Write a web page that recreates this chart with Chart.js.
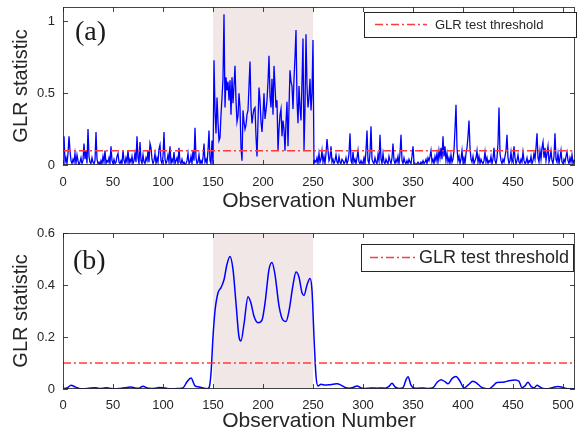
<!DOCTYPE html>
<html><head><meta charset="utf-8">
<script src="https://cdn.jsdelivr.net/npm/chart.js@4.4.0/dist/chart.umd.min.js"></script>
<style>
html,body{margin:0;padding:0;background:#fff;width:577px;height:437px;overflow:hidden}
#wa{position:absolute;left:0;top:0;width:577px;height:220px}
#wb{position:absolute;left:0;top:220px;width:577px;height:217px}
canvas{display:block}
</style></head><body>
<div id="wa"><canvas id="ca" width="577" height="220"></canvas></div>
<div id="wb"><canvas id="cb" width="577" height="217"></canvas></div>
<script>
// ---------- data ----------
const glrA = [
0.20,0.02,0.05,0.01,0.08,0.20,0.10,0.03,0.01,0.04,
0.02,0.08,0.01,0.07,0.03,0.00,0.02,0.05,0.01,0.03,
0.15,0.04,0.10,0.01,0.25,0.06,0.02,0.01,0.05,0.02,
0.01,0.03,0.23,0.04,0.01,0.02,0.00,0.03,0.01,0.06,
0.02,0.10,0.01,0.03,0.02,0.05,0.01,0.13,0.03,0.01,
0.04,0.01,0.02,0.06,0.08,0.02,0.01,0.03,0.01,0.10,
0.03,0.01,0.05,0.02,0.10,0.01,0.04,0.02,0.06,0.01,
0.03,0.08,0.02,0.20,0.05,0.01,0.16,0.03,0.01,0.07,
0.02,0.01,0.05,0.03,0.10,0.02,0.15,0.12,0.04,0.01,
0.03,0.08,0.01,0.05,0.02,0.11,0.14,0.03,0.01,0.06,
0.23,0.04,0.01,0.03,0.07,0.02,0.13,0.01,0.04,0.02,
0.09,0.01,0.03,0.05,0.01,0.12,0.02,0.01,0.04,0.01,
0.02,0.00,0.01,0.03,0.08,0.01,0.02,0.06,0.01,0.10,
0.03,0.26,0.05,0.01,0.02,0.07,0.01,0.03,0.01,0.05,
0.15,0.02,0.04,0.01,0.10,0.24,0.03,0.01,0.17,0.00,
0.73,0.38,0.22,0.47,0.30,0.17,0.19,0.35,0.47,0.60,
1.05,0.40,0.61,0.52,0.58,0.45,0.59,0.35,0.61,0.43,
0.55,0.69,0.45,0.30,0.34,0.50,0.40,0.12,0.03,0.38,
0.30,0.25,0.28,0.35,0.38,0.55,0.72,0.40,0.29,0.35,
0.39,0.40,0.20,0.06,0.30,0.54,0.45,0.30,0.23,0.35,
0.50,0.32,0.38,0.45,0.58,0.76,0.48,0.40,0.60,0.35,
0.69,0.55,0.40,0.45,0.10,0.25,0.35,0.39,0.20,0.31,
0.25,0.10,0.30,0.44,0.13,0.40,0.66,0.58,0.55,0.39,
0.60,0.75,0.94,0.45,0.29,0.55,0.40,0.31,0.58,0.88,
0.10,0.40,0.91,0.55,0.40,0.47,0.60,0.38,0.50,0.87,
0.01,0.03,0.02,0.05,0.01,0.08,0.02,0.04,0.10,0.02,
0.06,0.01,0.08,0.18,0.10,0.03,0.05,0.13,0.02,0.04,
0.01,0.03,0.07,0.02,0.01,0.06,0.02,0.01,0.04,0.03,
0.01,0.02,0.05,0.01,0.03,0.08,0.22,0.03,0.01,0.09,
0.02,0.04,0.01,0.05,0.10,0.02,0.01,0.03,0.01,0.02,
0.05,0.01,0.10,0.24,0.03,0.01,0.08,0.27,0.04,0.02,
0.01,0.05,0.02,0.01,0.07,0.03,0.21,0.04,0.01,0.08,
0.02,0.01,0.04,0.02,0.01,0.06,0.03,0.01,0.05,0.15,
0.03,0.01,0.04,0.02,0.06,0.01,0.08,0.21,0.03,0.01,
0.05,0.02,0.01,0.03,0.01,0.04,0.02,0.01,0.06,0.13,
0.02,0.01,0.00,0.01,0.02,0.01,0.00,0.02,0.01,0.03,
0.01,0.02,0.04,0.01,0.05,0.03,0.06,0.10,0.02,0.04,
0.01,0.06,0.03,0.08,0.02,0.10,0.05,0.12,0.04,0.20,
0.06,0.13,0.03,0.08,0.02,0.05,0.01,0.07,0.02,0.04,
0.10,0.25,0.42,0.12,0.03,0.06,0.01,0.04,0.10,0.02,
0.05,0.01,0.08,0.12,0.20,0.31,0.12,0.04,0.02,0.06,
0.01,0.03,0.05,0.10,0.02,0.06,0.01,0.04,0.02,0.01,
0.03,0.09,0.02,0.05,0.01,0.03,0.02,0.06,0.01,0.04,
0.12,0.03,0.01,0.05,0.15,0.40,0.08,0.03,0.01,0.04,
0.02,0.06,0.10,0.21,0.05,0.01,0.03,0.09,0.02,0.04,
0.13,0.05,0.01,0.03,0.07,0.02,0.01,0.04,0.02,0.09,
0.03,0.01,0.02,0.05,0.01,0.03,0.02,0.06,0.01,0.03,
0.08,0.04,0.12,0.22,0.05,0.02,0.10,0.04,0.12,0.16,
0.05,0.12,0.03,0.08,0.13,0.02,0.05,0.10,0.03,0.01,
0.06,0.22,0.04,0.02,0.08,0.01,0.05,0.10,0.02,0.01,
0.04,0.02,0.06,0.09,0.03,0.01,0.05,0.02,0.07,0.01,
0.03,0.02
];
const obsA = glrA.map((v, i) => i + 1);

const obsB = [0,4,8,12,16,20,24,28,32,36,40,44,48,52,56,60,64,68,72,76,80,84,88,92,96,100,104,108,112,116,120,124,128,132,136,140,144,
146,148,150,152,155,158,161,164,167,170,173,176,178,181,185,188,191,195,199,202,206,209,212,216,220,223,226,230,233,236,239,241,244,247,249,251,253,255,
258,262,266,270,274,278,282,286,290,294,298,302,306,310,314,318,322,326,329,332,336,340,343,345,348,351,355,360,365,370,374,378,382,385,389,393,397,401,
405,410,414,418,422,426,430,434,440,446,452,456,459,462,465,468,471,474,477,480,485,490,495,499,503,508,512];
const glrB = [0.002,0.004,0.014,0.008,0.002,0.001,0.002,0.004,0.005,0.002,0.003,0.005,0.002,0.001,0.002,0.004,0.006,0.008,0.004,0.003,0.011,0.004,0.002,0.003,0.006,0.005,0.002,0.001,0.001,0.002,0.004,0.028,0.042,0.012,0.008,0.004,0.001,
0.005,0.06,0.20,0.30,0.37,0.39,0.42,0.48,0.51,0.46,0.33,0.20,0.185,0.25,0.355,0.33,0.28,0.255,0.265,0.33,0.46,0.487,0.44,0.32,0.265,0.26,0.30,0.40,0.45,0.43,0.37,0.36,0.40,0.425,0.38,0.20,0.05,0.012,
0.018,0.015,0.016,0.018,0.02,0.015,0.006,0.003,0.006,0.012,0.004,0.002,0.003,0.004,0.003,0.004,0.003,0.01,0.022,0.008,0.002,0.005,0.035,0.047,0.015,0.004,0.003,0.004,0.002,0.005,0.025,0.036,0.028,0.02,0.04,0.048,0.03,0.004,
0.015,0.03,0.022,0.008,0.002,0.001,0.012,0.025,0.026,0.032,0.035,0.03,0.005,0.012,0.026,0.01,0.004,0.014,0.008,0.002,0.001,0.006,0.01,0.007,0.002,0.001,0.001];

const threshold = 0.1;
const xRange = [0, 512];
const xTicks = [0,50,100,150,200,250,300,350,400,450,500];
const yTicksA = [0, 0.5, 1];
const yTicksB = [0, 0.2, 0.4, 0.6];
const yMaxA = 1.1, yMaxB = 0.6;
const shadeRange = [150, 250];
const panelLabels = ['(a)', '(b)'];
const legendLabel = 'GLR test threshold';
const xTitle = 'Observation Number';
const yTitle = 'GLR statistic';

// ---------- styling / helpers ----------
const FONT = "'Liberation Sans', Arial, Helvetica, sans-serif";
const TXT = '#262626';
const FRAME = 'rgba(38,38,38,0.85)';
Chart.defaults.font.family = FONT;

const decorPlugin = {
  id: 'decor',
  beforeDatasetsDraw(chart, args, o) {
    const {ctx, chartArea: a, scales: {x, y}} = chart;
    const x0 = x.getPixelForValue(shadeRange[0]), x1 = x.getPixelForValue(shadeRange[1]);
    ctx.save();
    ctx.fillStyle = '#f2e7e7';
    ctx.fillRect(x0, a.top, x1 - x0, a.bottom - a.top);
    ctx.restore();
  },
  afterDatasetsDraw(chart, args, o) {
    const {ctx, chartArea: a, scales: {x, y}} = chart;
    ctx.save();
    ctx.strokeStyle = FRAME;
    ctx.lineWidth = 1;
    ctx.strokeRect(a.left + 0.5, a.top + 0.5, a.right - a.left - 1, a.bottom - a.top - 1);
    const tl = 5;
    ctx.beginPath();
    xTicks.forEach(v => {
      const px = Math.round(x.getPixelForValue(v)) + 0.5;
      ctx.moveTo(px, a.bottom); ctx.lineTo(px, a.bottom - tl);
      ctx.moveTo(px, a.top); ctx.lineTo(px, a.top + tl);
    });
    o.yTicks.forEach(v => {
      const py = Math.round(y.getPixelForValue(v)) + 0.5;
      ctx.moveTo(a.left, py); ctx.lineTo(a.left + tl, py);
      ctx.moveTo(a.right, py); ctx.lineTo(a.right - tl, py);
    });
    ctx.stroke();
    // panel label
    ctx.fillStyle = '#1a1a1a';
    ctx.font = o.labelFont;
    ctx.textBaseline = 'middle';
    ctx.textAlign = 'left';
    ctx.fillText(o.label, o.labelX, o.labelY);
    // legend
    const L = o.legend;
    ctx.fillStyle = '#fff';
    ctx.fillRect(L.x, L.y, L.w, L.h);
    ctx.strokeStyle = TXT;
    ctx.lineWidth = 1;
    ctx.strokeRect(L.x + 0.5, L.y + 0.5, L.w, L.h);
    const cy = L.y + L.h / 2;
    ctx.strokeStyle = '#ff3c3c';
    ctx.lineWidth = 1.5;
    ctx.setLineDash([8, 3, 2, 3]);
    ctx.beginPath(); ctx.moveTo(L.lx0, cy); ctx.lineTo(L.lx1, cy); ctx.stroke();
    ctx.setLineDash([]);
    ctx.fillStyle = TXT;
    ctx.font = L.font;
    ctx.fillText(legendLabel, L.tx, cy + 1);
    ctx.restore();
  }
};

function makeChart(id, pts, cfg) {
  return new Chart(document.getElementById(id), {
    type: 'line',
    data: {
      datasets: [
        { data: xRange.map(v => ({x: v, y: threshold})), borderColor: '#ff3c3c', borderWidth: 1.5,
          borderDash: [8, 3, 2, 3], pointRadius: 0, order: 0 },
        { data: pts, borderColor: '#0000ff', borderWidth: cfg.lw, pointRadius: 0, order: 1,
          tension: cfg.tension, cubicInterpolationMode: cfg.cim }
      ]
    },
    options: {
      responsive: false, animation: false, devicePixelRatio: 1,
      layout: { padding: cfg.pad },
      plugins: { legend: { display: false }, tooltip: { enabled: false }, decor: cfg.decor },
      scales: {
        x: {
          type: 'linear', min: xRange[0], max: xRange[1],
          afterBuildTicks: s => { s.ticks = xTicks.map(v => ({value: v})); },
          afterFit: s => { s.height = cfg.xh; s.paddingLeft = 0; s.paddingRight = 0; },
          ticks: { autoSkip: false, maxRotation: 0, padding: cfg.xpad, color: TXT,
                   font: { size: 13 }, callback: v => String(v) },
          grid: { display: false, drawTicks: false }, border: { display: false },
          title: { display: true, text: xTitle, color: TXT, font: { size: 21 }, padding: { top: 0, bottom: 0 } }
        },
        y: {
          min: 0, max: cfg.ymax,
          afterBuildTicks: s => { s.ticks = cfg.yTicks.map(v => ({value: v})); },
          afterFit: s => { s.width = 63; s.paddingTop = 0; s.paddingBottom = 0; },
          ticks: { padding: 8, color: TXT, font: { size: 13 }, callback: v => String(v) },
          grid: { display: false, drawTicks: false }, border: { display: false },
          title: { display: true, text: yTitle, color: TXT, font: { size: 20 }, padding: { top: 9, bottom: 0 } }
        }
      }
    },
    plugins: [decorPlugin]
  });
}

makeChart('ca', obsA.map((v, i) => ({x: v, y: glrA[i]})), {
  lw: 1.3, tension: 0, cim: 'default', ymax: yMaxA, yTicks: yTicksA,
  pad: { top: 7, right: 2, bottom: 6, left: 0 }, xh: 49, xpad: 10,
  decor: { yTicks: yTicksA, label: panelLabels[0], labelX: 75, labelY: 33,
           labelFont: "28px 'Liberation Serif', 'Times New Roman', serif",
           legend: { x: 364, y: 12, w: 212, h: 25, lx0: 375, lx1: 427, tx: 435, font: "13px " + FONT } }
});

makeChart('cb', obsB.map((v, i) => ({x: v, y: glrB[i]})), {
  lw: 1.5, tension: 0.4, cim: 'monotone', ymax: yMaxB, yTicks: yTicksB,
  pad: { top: 13, right: 2, bottom: 3, left: 0 }, xh: 45, xpad: 9,
  decor: { yTicks: yTicksB, label: panelLabels[1], labelX: 73, labelY: 42,
           labelFont: "28px 'Liberation Serif', 'Times New Roman', serif",
           legend: { x: 361, y: 24, w: 212, h: 27, lx0: 370, lx1: 415, tx: 419, font: "18px " + FONT } }
});
</script>
</body></html>
